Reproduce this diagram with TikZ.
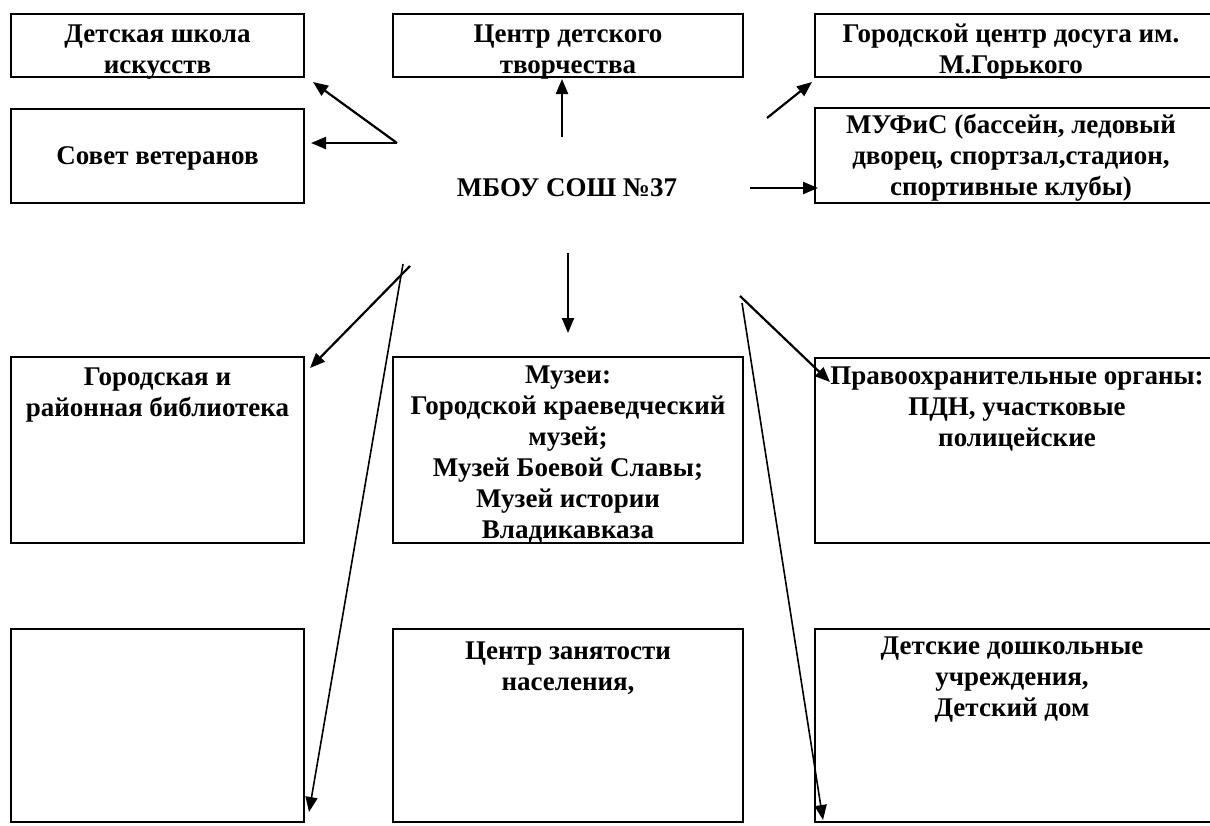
\documentclass[tikz,border=0pt]{standalone}
\usepackage{fontspec}
\setmainfont{Liberation Serif}
\usetikzlibrary{arrows.meta,calc}
\begin{document}
\begin{tikzpicture}[x=0.5pt,y=-0.5pt,
  box/.style={draw, line width=1pt, inner sep=0pt, outer sep=0pt, anchor=north west},
  txt/.style={font=\fontsize{13.5}{15.5}\selectfont\bfseries, align=center, inner sep=0pt, anchor=north},
  arr/.style={line width=1.1pt, -{Triangle[length=7.5pt,width=6pt]}},
  thinarr/.style={line width=0.8pt, -{Triangle[length=7.5pt,width=6pt]}}]
\useasboundingbox (0,0) rectangle (1210,825);
\clip (0,0) rectangle (1210,825);
% boxes
\node[box, minimum width=146.5pt, minimum height=31.5pt] (b1) at (11,14) {};
\node[box, minimum width=146.5pt, minimum height=47pt] (sov) at (11,109) {};
\node[box, minimum width=175pt, minimum height=31.5pt] (tvor) at (393,14) {};
\node[box, minimum width=202.5pt, minimum height=31.5pt] (gor) at (815,14) {};
\node[box, minimum width=202.5pt, minimum height=47.5pt] (muf) at (815,108) {};
\node[box, minimum width=146.5pt, minimum height=93pt] (lib) at (11,357) {};
\node[box, minimum width=175pt, minimum height=93pt] (mus) at (393,357) {};
\node[box, minimum width=202.5pt, minimum height=92.5pt] (law) at (815,358) {};
\node[box, minimum width=146.5pt, minimum height=96.5pt] (bl) at (11,629) {};
\node[box, minimum width=175pt, minimum height=96.5pt] (zan) at (393,629) {};
\node[box, minimum width=202.5pt, minimum height=96.5pt] (kids) at (815,629) {};
% texts
\node[txt] (t1) at (157.5,24) {Детская школа\\искусств};
\node[txt, anchor=center] (tsov) at ($(sov.center)+(0,2)$) {Совет ветеранов};
\node[txt] (ttvor) at (568,24) {Центр детского\\творчества};
\node[txt] (tgor) at (1011,24) {Городской центр досуга им.\\М.Горького};
\node[txt] (tmuf) at (1011,114) {МУФиС (бассейн, ледовый\\дворец, спортзал,стадион,\\спортивные клубы)};
\node[txt, anchor=center] (mbou) at (567,188) {МБОУ СОШ №37};
\node[txt] (tlib) at (157.5,367) {Городская и\\районная библиотека};
\node[txt] (tmus) at (568,365) {Музеи:\\Городской краеведческий\\музей;\\Музей Боевой Славы;\\Музей истории\\Владикавказа};
\node[txt] (tlaw) at (1017,366) {Правоохранительные органы:\\ПДН, участковые\\полицейские};
\node[txt] (tzan) at (568,641) {Центр занятости\\населения,};
\node[txt] (tkids) at (1012,636) {Детские дошкольные\\учреждения,\\Детский дом};
% connector start points
\coordinate (sL) at ($(mbou)+(-170,-45)$);
\coordinate (sU) at ($(mbou)+(-5,-51)$);
\coordinate (sUR) at ($(mbou)+(200,-70)$);
\coordinate (sR) at ($(mbou)+(183,0)$);
\coordinate (sDL1) at ($(mbou)+(-157,78)$);
\coordinate (sDL2) at ($(mbou)+(-164,76)$);
\coordinate (sD) at ($(mbou)+(1,65)$);
\coordinate (sDR1) at ($(mbou)+(173,108)$);
\coordinate (sDR2) at ($(mbou)+(175,115)$);
% connectors
\draw[arr] (sL) -- ($(b1.south east)+(9,5)$);
\draw[arr] (sL) -- ($(sov.east)+(7,-13)$);
\draw[arr] (sU) -- ($(tvor.south)+(-6,2)$);
\draw[arr] (sUR) -- ($(gor.south west)+(-3,5)$);
\draw[arr] (sR) -- ($(muf.south west)+(3,-15)$);
\draw[arr] (sDL1) -- ($(lib.north east)+(6,11)$);
\draw[thinarr] (sDL2) -- ($(bl.south east)+(5,-10)$);
\draw[arr] (sD) -- ($(mus.north)+(0,-24)$);
\draw[arr] (sDR1) -- ($(law.north west)+(15,24)$);
\draw[thinarr] (sDR2) -- ($(kids.south west)+(8,-2)$);
\end{tikzpicture}
\end{document}
